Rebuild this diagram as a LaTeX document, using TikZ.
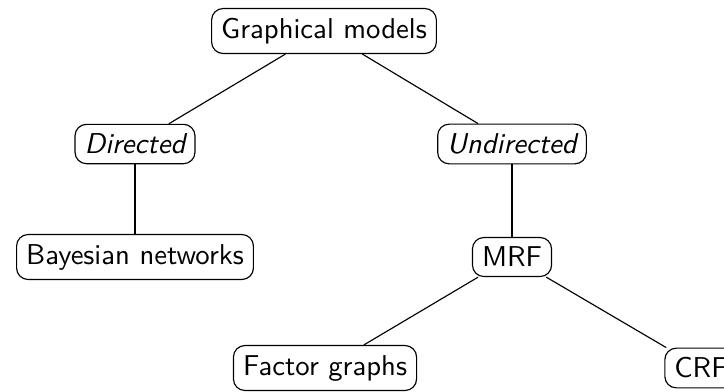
\documentclass[tikz,border=0pt]{standalone}
\begin{document}
\begin{tikzpicture}[x=0.3484pt, y=-0.3484pt,
    box/.style={draw, rounded corners=4pt, font=\sffamily, inner sep=0.3333em},
    cat/.style={box, font=\sffamily\itshape}]
  \useasboundingbox (0,0) rectangle (724,391);

  % taxonomy of graphical models
  \node[box] (gm)    at (324,31)  {Graphical models};
  \node[cat] (dir)   at (135,144) {Directed};
  \node[cat] (undir) at (512,144) {Undirected};
  \node[box] (bn)    at (135,257) {Bayesian networks};
  \node[box] (mrf)   at (512,257) {MRF};
  \node[box] (fg)    at (325,368) {Factor graphs};
  \node[box] (crf)   at (701,368) {CRF};

  \draw (gm) -- (dir);
  \draw (gm) -- (undir);
  \draw (dir) -- (bn);
  \draw (undir) -- (mrf);
  \draw (mrf) -- (fg);
  \draw (mrf) -- (crf);
\end{tikzpicture}
\end{document}
